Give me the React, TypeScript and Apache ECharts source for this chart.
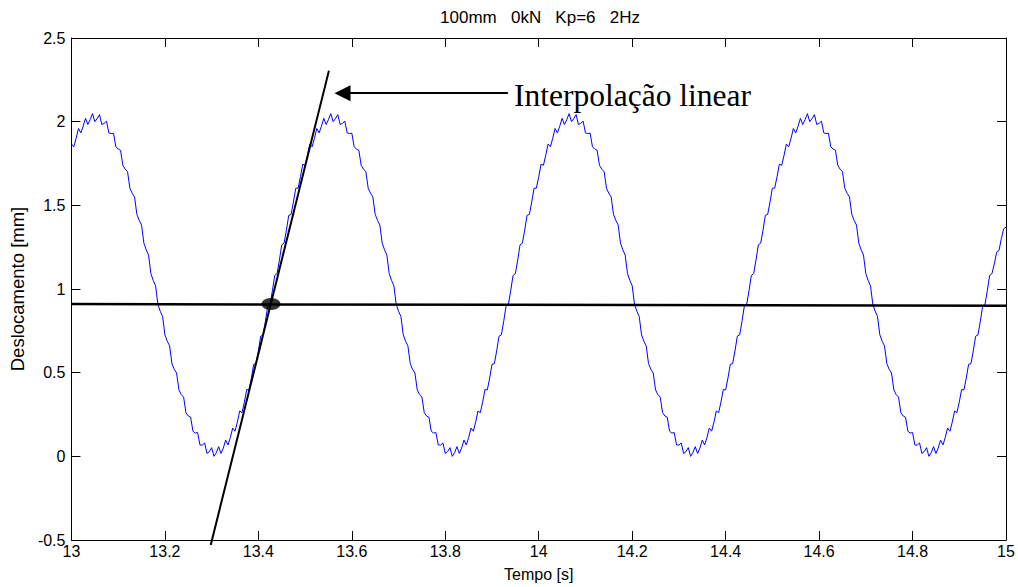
import React, { useEffect, useRef } from "react";
import * as echarts from "echarts";

// Sampling of the displacement record (time base)
const T_START = 13;
const T_STEP = 0.005;

// Displacement [mm], one value every 5 ms from 13 s to 15 s
const displacement: number[] = [
  1.866, 1.850, 1.901, 1.959, 1.933, 1.973, 2.020, 1.983, 2.012, 2.048,
  // cycle 1
  2.000, 2.018, 2.042, 1.983, 1.990, 2.003, 1.933, 1.929, 1.931, 1.850,
  1.836, 1.829, 1.739, 1.716, 1.701, 1.603, 1.572, 1.550, 1.446, 1.410,
  1.382, 1.274, 1.234, 1.203, 1.092, 1.051, 1.019, 0.908, 0.867, 0.836,
  0.726, 0.688, 0.660, 0.554, 0.520, 0.498, 0.397, 0.369, 0.354, 0.261,
  0.241, 0.234, 0.150, 0.139, 0.142, 0.068, 0.067, 0.080, 0.017, 0.028,
  0.052, 0.000, 0.022, 0.058, 0.017, 0.050, 0.097, 0.068, 0.112, 0.169,
  0.150, 0.204, 0.271, 0.261, 0.324, 0.399, 0.397, 0.468, 0.550, 0.554,
  0.630, 0.718, 0.726, 0.806, 0.897, 0.908, 0.989, 1.081, 1.092, 1.173,
  1.264, 1.274, 1.352, 1.440, 1.446, 1.520, 1.602, 1.603, 1.671, 1.746,
  1.739, 1.799, 1.866, 1.850, 1.901, 1.959, 1.933, 1.973, 2.020, 1.983,
  2.012, 2.048,
  // cycle 2
  2.000, 2.018, 2.042, 1.983, 1.990, 2.003, 1.933, 1.929, 1.931, 1.850,
  1.836, 1.829, 1.739, 1.716, 1.701, 1.603, 1.572, 1.550, 1.446, 1.410,
  1.382, 1.274, 1.234, 1.203, 1.092, 1.051, 1.019, 0.908, 0.867, 0.836,
  0.726, 0.688, 0.660, 0.554, 0.520, 0.498, 0.397, 0.369, 0.354, 0.261,
  0.241, 0.234, 0.150, 0.139, 0.142, 0.068, 0.067, 0.080, 0.017, 0.028,
  0.052, 0.000, 0.022, 0.058, 0.017, 0.050, 0.097, 0.068, 0.112, 0.169,
  0.150, 0.204, 0.271, 0.261, 0.324, 0.399, 0.397, 0.468, 0.550, 0.554,
  0.630, 0.718, 0.726, 0.806, 0.897, 0.908, 0.989, 1.081, 1.092, 1.173,
  1.264, 1.274, 1.352, 1.440, 1.446, 1.520, 1.602, 1.603, 1.671, 1.746,
  1.739, 1.799, 1.866, 1.850, 1.901, 1.959, 1.933, 1.973, 2.020, 1.983,
  2.012, 2.048,
  // cycle 3
  2.000, 2.018, 2.042, 1.983, 1.990, 2.003, 1.933, 1.929, 1.931, 1.850,
  1.836, 1.829, 1.739, 1.716, 1.701, 1.603, 1.572, 1.550, 1.446, 1.410,
  1.382, 1.274, 1.234, 1.203, 1.092, 1.051, 1.019, 0.908, 0.867, 0.836,
  0.726, 0.688, 0.660, 0.554, 0.520, 0.498, 0.397, 0.369, 0.354, 0.261,
  0.241, 0.234, 0.150, 0.139, 0.142, 0.068, 0.067, 0.080, 0.017, 0.028,
  0.052, 0.000, 0.022, 0.058, 0.017, 0.050, 0.097, 0.068, 0.112, 0.169,
  0.150, 0.204, 0.271, 0.261, 0.324, 0.399, 0.397, 0.468, 0.550, 0.554,
  0.630, 0.718, 0.726, 0.806, 0.897, 0.908, 0.989, 1.081, 1.092, 1.173,
  1.264, 1.274, 1.352, 1.440, 1.446, 1.520, 1.602, 1.603, 1.671, 1.746,
  1.739, 1.799, 1.866, 1.850, 1.901, 1.959, 1.933, 1.973, 2.020, 1.983,
  2.012, 2.048,
  // cycle 4 (partial)
  2.000, 2.018, 2.042, 1.983, 1.990, 2.003, 1.933, 1.929, 1.931, 1.850,
  1.836, 1.829, 1.739, 1.716, 1.701, 1.603, 1.572, 1.550, 1.446, 1.410,
  1.382, 1.274, 1.234, 1.203, 1.092, 1.051, 1.019, 0.908, 0.867, 0.836,
  0.726, 0.688, 0.660, 0.554, 0.520, 0.498, 0.397, 0.369, 0.354, 0.261,
  0.241, 0.234, 0.150, 0.139, 0.142, 0.068, 0.067, 0.080, 0.017, 0.028,
  0.052, 0.000, 0.022, 0.058, 0.017, 0.050, 0.097, 0.068, 0.112, 0.169,
  0.150, 0.204, 0.271, 0.261, 0.324, 0.399, 0.397, 0.468, 0.550, 0.554,
  0.630, 0.718, 0.726, 0.806, 0.897, 0.908, 0.989, 1.081, 1.092, 1.150,
  1.220, 1.230, 1.300, 1.360, 1.370,
];

// Reference (threshold) line
const thresholdLine: [number, number][] = [
  [13, 0.91],
  [15, 0.9],
];
// Linear interpolation line
const interpolationLine: [number, number][] = [
  [13.298, -0.53],
  [13.551, 2.305],
];
// Crossing point
const crossingPoint: [number, number][] = [[13.427, 0.91]];
// Arrow (from text towards the interpolation line)
const arrowFrom: [number, number] = [13.934, 2.17];
const arrowTo: [number, number] = [13.58, 2.17];

const TITLE = "100mm   0kN   Kp=6   2Hz";
const X_NAME = "Tempo [s]";
const Y_NAME = "Deslocamento [mm]";
const NOTE = "Interpolação linear";

const FONT = "'Liberation Sans', Arial, Helvetica, sans-serif";

export default function App() {
  const ref = useRef<HTMLDivElement>(null);

  useEffect(() => {
    if (!ref.current) return;
    const chart = echarts.init(ref.current, undefined, { renderer: "svg" });

    const seriesData = displacement.map((v, i) => [
      +(T_START + i * T_STEP).toFixed(3),
      v,
    ]);

    const axisCommon = {
      type: "value" as const,
      splitLine: { show: false },
      axisLine: { show: true, onZero: false, lineStyle: { color: "#000", width: 1 } },
      axisTick: { show: true, inside: true, length: 9, lineStyle: { color: "#000", width: 1 } },
    };

    chart.setOption({
      animation: false,
      backgroundColor: "#fff",
      grid: { left: 66, right: 12, top: 38, bottom: 44, containLabel: false },
      xAxis: [
        {
          ...axisCommon,
          position: "bottom",
          min: 13,
          max: 15,
          interval: 0.2,
          name: X_NAME,
          nameLocation: "middle",
          nameGap: 26,
          nameTextStyle: { color: "#000", fontSize: 16, fontFamily: FONT },
          axisLabel: { color: "#000", fontSize: 16, fontFamily: FONT, margin: 3 },
        },
        {
          ...axisCommon,
          position: "top",
          min: 13,
          max: 15,
          interval: 0.2,
          axisLabel: { show: false },
        },
      ],
      yAxis: [
        {
          ...axisCommon,
          position: "left",
          min: -0.5,
          max: 2.5,
          interval: 0.5,
          name: Y_NAME,
          nameLocation: "middle",
          nameGap: 40,
          nameTextStyle: { color: "#000", fontSize: 18.5, fontFamily: FONT },
          axisLabel: { color: "#000", fontSize: 16, fontFamily: FONT, margin: 6 },
        },
        {
          ...axisCommon,
          position: "right",
          min: -0.5,
          max: 2.5,
          interval: 0.5,
          axisLabel: { show: false },
        },
      ],
      series: [
        {
          type: "line",
          data: seriesData,
          showSymbol: false,
          symbol: "none",
          lineStyle: { color: "#0000ff", width: 1 },
          z: 2,
        },
        {
          type: "line",
          data: thresholdLine,
          symbol: "none",
          lineStyle: { color: "#000", width: 2.5 },
          z: 3,
        },
        {
          type: "line",
          data: interpolationLine,
          symbol: "none",
          clip: false,
          lineStyle: { color: "#000", width: 2 },
          z: 3,
        },
        {
          type: "scatter",
          data: crossingPoint,
          symbol: "circle",
          symbolSize: [19, 12],
          itemStyle: { color: "#000" },
          z: 4,
        },
        {
          type: "line",
          data: [],
          markLine: {
            silent: true,
            symbol: ["none", "triangle"],
            symbolSize: 16,
            label: { show: false },
            lineStyle: { color: "#000", width: 2, type: "solid" },
            data: [[{ coord: arrowFrom }, { coord: arrowTo }]],
          },
        },
      ],
      graphic: [
        {
          type: "text",
          x: 540,
          y: 17,
          style: {
            text: TITLE,
            fill: "#000",
            font: `17px ${FONT}`,
            align: "center",
            verticalAlign: "middle",
          },
        },
        {
          type: "text",
          x: 514,
          y: 95,
          style: {
            text: NOTE,
            fill: "#000",
            font: `31.5px 'Liberation Serif', 'Times New Roman', serif`,
            align: "left",
            verticalAlign: "middle",
          },
        },
      ],
    });

    return () => chart.dispose();
  }, []);

  return (
    <div
      ref={ref}
      style={{ position: "absolute", left: 0, top: 0, width: 1018, height: 587 }}
    />
  );
}
